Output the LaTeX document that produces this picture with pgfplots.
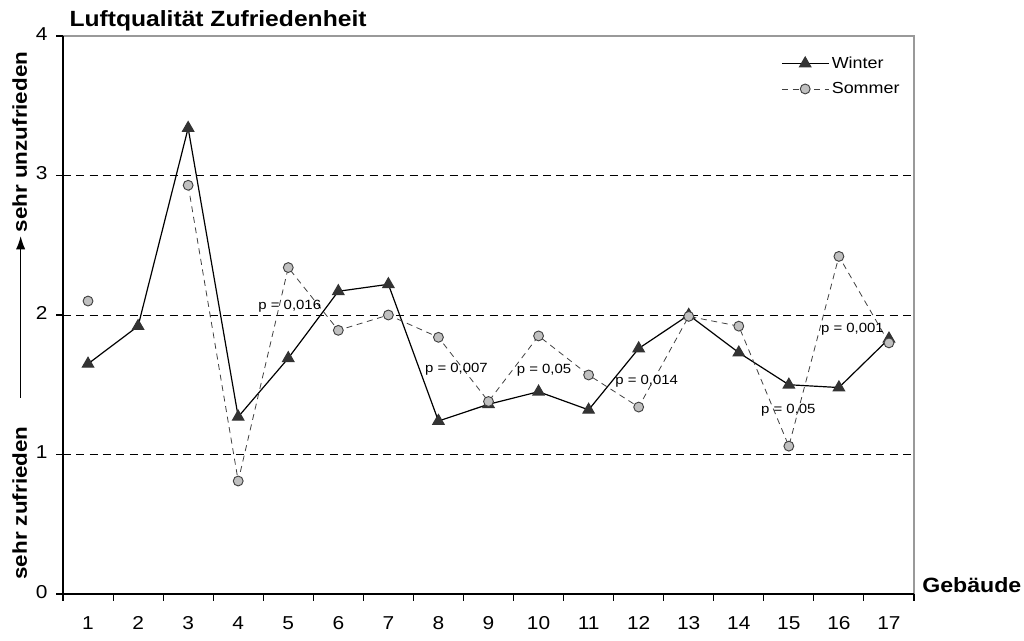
\documentclass[border=0pt]{standalone}
\usepackage{pgfplots}
\pgfplotsset{compat=1.18}
\usepackage{fontspec}
\setmainfont{Liberation Sans}[FakeStretch=1.12]
\usetikzlibrary{arrows.meta}
\definecolor{sfill}{HTML}{C0C0C0}
\definecolor{sedge}{HTML}{404040}
\definecolor{tridark}{HTML}{333333}
\definecolor{boxgray}{HTML}{999999}
\begin{document}
\begin{tikzpicture}
\begin{axis}[
  at={(0pt,0pt)}, anchor=south west,
  scale only axis, width=638.25pt, height=418.5pt,
  xmin=0.5, xmax=17.5, ymin=0, ymax=4,
  xtick={1,...,17},
  minor xtick={0.5,1.5,...,17.5},
  major x tick style={draw=none},
  ytick={0,1,2,3,4},
  tick align=outside, xtick pos=left, ytick pos=left,
  major tick length=5pt, minor tick length=5pt,
  tick style={black, line width=0.8pt},
  minor tick style={black, line width=0.8pt},
  ymajorgrids,
  grid style={black, line width=0.7pt, dash pattern=on 6pt off 4pt},
  axis line style={draw=none},
  /pgf/number format/assume math mode=true,
  tick label style={font=\fontsize{14}{16}\selectfont},
  typeset ticklabels with strut,
  xticklabel style={yshift=-7pt},
  yticklabel style={xshift=-3pt},
  clip=false,
  unbounded coords=jump,
  legend style={draw=none, fill=none, inner sep=0pt, at={(0.8437,0.968)}, anchor=north west,
    font=\fontsize{12}{14}\selectfont, row sep=5pt},
  legend cell align=left,
  legend image code/.code={\draw[#1, mark repeat=2, mark phase=2] plot coordinates {(0pt,0pt) (17.5pt,0pt) (35pt,0pt)};},
  after end axis/.code={
    \draw[boxgray, line width=0.8pt] (rel axis cs:0,1) -- (rel axis cs:1,1) -- (rel axis cs:1,0);
    \draw[black, line width=0.9pt] (rel axis cs:0,1) -- (rel axis cs:0,0) -- (rel axis cs:1,0);
  },
]
\addplot[black, line width=0.9pt, mark=triangle*, mark size=4.8pt,
  mark options={solid, fill=tridark, draw=tridark}] coordinates {
  (1,1.65) (2,1.92) (3,3.34) (4,1.27) (5,1.69) (6,2.17) (7,2.22) (8,1.24) (9,1.36)
  (10,1.45) (11,1.32) (12,1.76) (13,2.00) (14,1.73) (15,1.50) (16,1.48) (17,1.83)};
\addlegendentry{Winter}
\addplot[sedge, line width=0.6pt, dash pattern=on 4.5pt off 3.5pt, mark=*, mark size=3.7pt,
  mark options={solid, fill=sfill, draw=sedge, line width=0.7pt}] coordinates {
  (1,2.10) (2,nan) (3,2.93) (4,0.81) (5,2.34) (6,1.89) (7,2.00) (8,1.84) (9,1.38)
  (10,1.85) (11,1.57) (12,1.34) (13,1.99) (14,1.92) (15,1.06) (16,2.42) (17,1.80)};
\addlegendentry{Sommer}
\begin{scope}[every node/.style={font=\fontsize{10}{12}\selectfont, inner sep=0pt}]
\node at (axis cs:5.03,2.06) {p = 0,016};
\node at (axis cs:8.36,1.61) {p = 0,007};
\node at (axis cs:10.11,1.605) {p = 0,05};
\node at (axis cs:12.16,1.526) {p = 0,014};
\node at (axis cs:14.99,1.316) {p = 0,05};
\node at (axis cs:16.27,1.895) {p = 0,001};
\end{scope}
\end{axis}
\node[anchor=base west, inner sep=0pt, font=\fontsize{16.5}{19}\selectfont\bfseries] at (4.7pt,425.5pt) {Luftqualität Zufriedenheit};
\node[anchor=base west, inner sep=0pt, font=\fontsize{15.5}{18}\selectfont\bfseries] at (644.25pt,1pt) {Gebäude};
\node[rotate=90, anchor=base, inner sep=0pt, font=\fontsize{15}{18}\selectfont\bfseries] at (-27pt,339pt) {sehr unzufrieden};
\node[rotate=90, anchor=base, inner sep=0pt, font=\fontsize{15}{18}\selectfont\bfseries] at (-27pt,68.25pt) {sehr zufrieden};
\draw[black, line width=1.1pt, -{Latex[length=10pt,width=7pt]}] (-31.75pt,147pt) -- (-31.75pt,268.5pt);
\path[use as bounding box] (-47.25pt,-27pt) rectangle (720.75pt,445.5pt);
\end{tikzpicture}
\end{document}
